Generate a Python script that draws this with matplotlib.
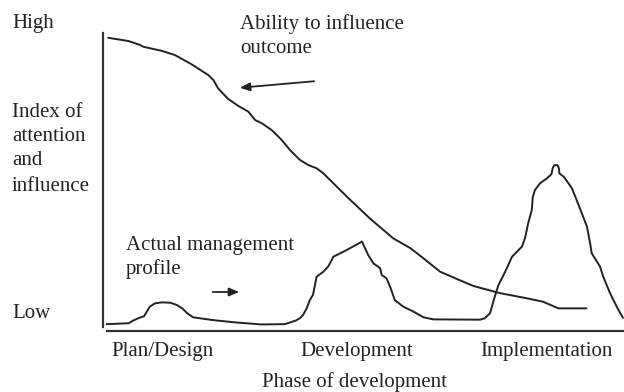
import matplotlib
matplotlib.use("Agg")
import matplotlib.pyplot as plt

plt.rcParams['font.family'] = ['Liberation Serif', 'DejaVu Serif']

# ---- data (x: phase 0-100, y: index 0-100) ----
ability_x = [1.0, 4.9, 7.1, 7.7, 11.3, 13.8, 17.0, 20.2, 21.2, 22.1, 24.0, 26.0,
             27.9, 29.2, 30.5, 32.4, 34.3, 35.9, 37.8, 39.4, 41.0, 42.3, 46.8,
             51.2, 55.7, 59.0, 61.5, 64.7, 69.2, 71.1, 76.2, 81.3, 84.5, 87.4, 92.8]
ability_y = [98.4, 97.3, 96.0, 95.4, 94.0, 92.6, 89.5, 85.9, 84.2, 81.4, 77.9, 75.5,
             73.6, 70.8, 69.7, 67.4, 64.1, 60.7, 57.4, 55.7, 54.6, 52.9, 45.1,
             37.8, 31.1, 27.8, 24.4, 19.9, 16.5, 15.1, 12.7, 11.0, 9.8, 7.6, 7.6]

mgmt_x = [0.7, 4.9, 5.8, 6.8, 7.9, 8.4, 9.0, 10.0, 11.3, 12.9, 14.2, 15.2, 16.2,
          17.3, 20.9, 25.3, 30.4, 34.9,
          37.0, 37.8, 38.4, 39.1, 39.7, 40.3, 41.0, 42.3, 43.2, 43.9, 44.2, 46.8,
          49.7, 50.9, 51.9, 52.8, 53.2, 53.5, 54.4, 55.1, 56.0, 57.6, 59.6, 61.5,
          63.4, 72.4,
          73.3, 74.3, 74.9, 75.9, 77.2, 78.5, 80.4, 81.0, 81.6, 82.3, 82.5, 82.9,
          83.9, 85.2, 86.1, 86.3, 86.6, 87.2, 87.5, 87.6, 88.4, 89.0, 90.0, 90.9,
          91.9, 92.9, 93.5, 93.8, 94.8, 95.4, 96.0, 96.4, 97.3, 97.9, 98.9, 99.8]
mgmt_y = [2.3, 2.6, 3.5, 4.3, 5.0, 6.5, 8.2, 9.3, 9.6, 9.5, 8.7, 7.6, 5.9,
          4.6, 3.7, 2.9, 2.2, 2.3,
          3.5, 4.3, 5.4, 7.6, 10.4, 12.1, 18.2, 19.9, 21.6, 23.8, 24.9, 27.2,
          30.0, 25.5, 22.7, 21.6, 21.0, 18.8, 17.7, 14.9, 10.4, 8.2, 6.5, 4.6,
          3.9, 3.8,
          4.3, 6.0, 9.8, 15.4, 19.9, 24.9, 28.3, 31.1, 36.1, 40.6, 45.0, 47.3,
          49.6, 51.2, 52.7, 54.6, 55.6, 55.7, 54.6, 52.9, 51.8, 50.4, 47.9, 44.0,
          39.5, 35.0, 29.4, 26.1, 23.3, 21.6, 18.3, 16.6, 12.8, 10.6, 7.2, 4.4]

phase_labels = ["Plan/Design", "Development", "Implementation"]
phase_pos = [11.5, 48.8, 85.2]

W, H = 624, 392
fig = plt.figure(figsize=(W / 100, H / 100), dpi=100)
ax = fig.add_axes([103 / W, (H - 331) / H, (W - 103) / W, (331 - 33) / H])
ax.set_xlim(0, 100)
ax.set_ylim(0, 100)

line_col = '#222222'
ax.plot(ability_x, ability_y, color=line_col, lw=1.4, solid_joinstyle='round',
        solid_capstyle='round')
ax.plot(mgmt_x, mgmt_y, color=line_col, lw=1.4, solid_joinstyle='round',
        solid_capstyle='round')

for s in ['top', 'right']:
    ax.spines[s].set_visible(False)
ax.spines['left'].set_color('#333333')
ax.spines['bottom'].set_color('#333333')
ax.spines['left'].set_linewidth(1.6)
ax.spines['bottom'].set_linewidth(1.6)
ax.spines['left'].set_bounds(1.5, 100)
ax.spines['bottom'].set_bounds(0.8, 100)

ax.set_yticks([])
ax.set_xticks(phase_pos)
ax.set_xticklabels(phase_labels, fontsize=15, color='#222222')
ax.tick_params(axis='x', length=0, pad=8)

def ftext(px, py, s, **kw):
    fig.text(px / W, 1 - py / H, s, fontsize=15, color='#222222', va='baseline', **kw)

ftext(12, 28, "High")
ftext(12, 117, "Index of")
ftext(12, 141, "attention")
ftext(12, 165, "and")
ftext(12, 191, "influence")
ftext(12, 318, "Low")
ftext(240, 29, "Ability to influence")
ftext(240, 53, "outcome")
ftext(126, 250, "Actual management")
ftext(126, 274, "profile")
ftext(355, 387, "Phase of development", ha='center')

fig.patches.append(matplotlib.patches.FancyArrowPatch(
    (317 / W, 1 - 81 / H), (237 / W, 1 - 88 / H), transform=fig.transFigure,
    arrowstyle='-|>,head_length=6,head_width=2.5', color='#222222', lw=1.3))
fig.patches.append(matplotlib.patches.FancyArrowPatch(
    (210 / W, 1 - 292 / H), (242 / W, 1 - 292 / H), transform=fig.transFigure,
    arrowstyle='-|>,head_length=6,head_width=2.5', color='#222222', lw=1.3))

fig.savefig("out.png", dpi=100)
